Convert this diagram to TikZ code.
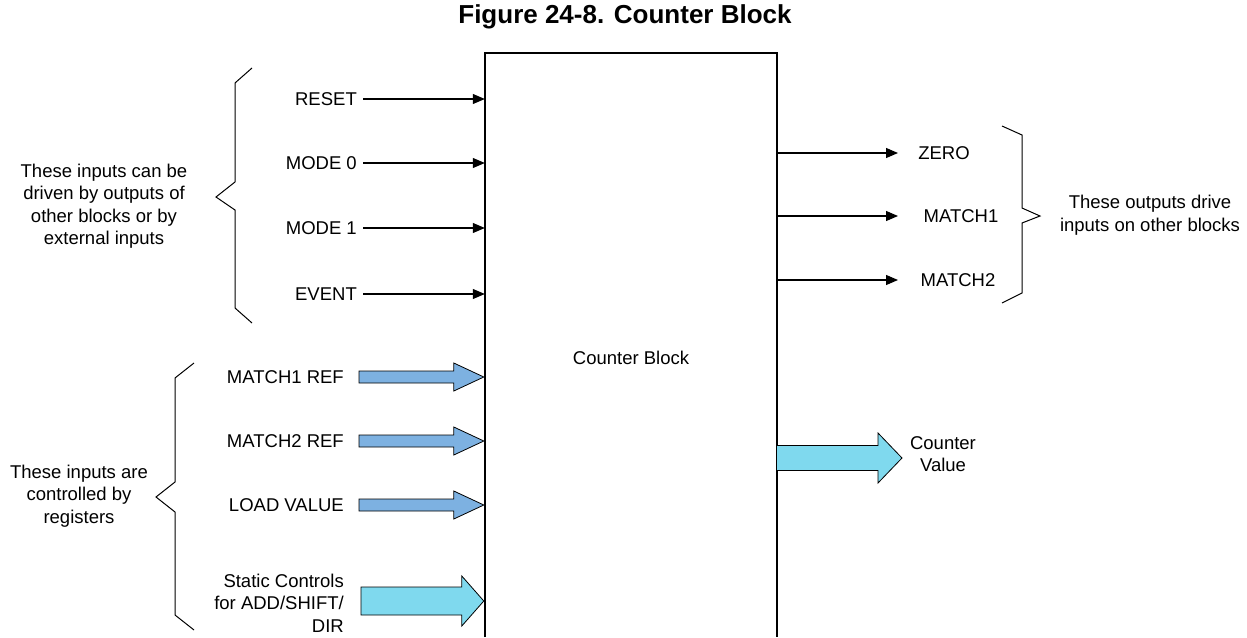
\documentclass[tikz,border=0pt]{standalone}
\usepackage{fontspec}
\setmainfont{Liberation Sans}
\usetikzlibrary{positioning,arrows.meta,calc}
\definecolor{regblue}{RGB}{125,177,225}
\definecolor{ctlcyan}{RGB}{127,217,238}

\begin{document}
\begin{tikzpicture}[x=1pt, y=-1pt, font=\fontsize{18.5}{22.5}\selectfont,
  lbl/.style={inner sep=3pt},
  sig/.style={-{Triangle[length=12pt,width=10pt]}, line width=1.1pt},
  bus/.style={draw=black, line width=0.8pt},
  brc/.style={line width=1pt}]
  \useasboundingbox (0,0) rectangle (1247,637);

  \node[font=\fontsize{26}{30}\selectfont\bfseries] (title) at (625,17) {Figure 24-8. Counter Block};

  % counter block, open at the bottom
  \node[minimum width=292pt, minimum height=584pt, inner sep=0pt] (blk) at (631,345) {};
  \draw[line width=2pt] (blk.south west) -- (blk.north west) -- (blk.north east) -- (blk.south east);
  \node[lbl] (cbl) at (631,358) {Counter Block};

  % event inputs
  \foreach \n/\y/\t in {rst/99/RESET, mode0/163/MODE 0, mode1/228/MODE 1, evt/294/EVENT} {
    \node[lbl, anchor=east] (\n) at (360,\y) {\t};
    \draw[sig, shorten <=3pt] (\n.east) -- (\n.east -| blk.west);
  }

  % register inputs
  \foreach \n/\y/\t in {m1ref/377/MATCH1 REF, m2ref/441/MATCH2 REF, ldval/505/LOAD VALUE} {
    \node[lbl, anchor=east] (\n) at (347,\y) {\t};
    \coordinate (\n-t) at ([xshift=-1pt]\n.east -| blk.west);
    \draw[bus, fill=regblue] ([shift={(12,-6)}]\n.east) -- ($(\n-t)+(-30,-6)$) -- ($(\n-t)+(-30,-14)$)
      -- (\n-t) -- ($(\n-t)+(-30,14)$) -- ($(\n-t)+(-30,6)$) -- ([shift={(12,6)}]\n.east) -- cycle;
  }
  \node[lbl, anchor=east, align=right] (statc) at (347,603) {Static Controls\\for ADD/SHIFT/\\DIR};
  \coordinate (statc-t) at ([shift={(-1,-2)}]statc.east -| blk.west);
  \draw[bus, fill=ctlcyan] ([shift={(14,-16)}]statc.east) -- ($(statc-t)+(-22,-14)$) -- ($(statc-t)+(-22,-25)$)
    -- (statc-t) -- ($(statc-t)+(-22,25)$) -- ($(statc-t)+(-22,14)$) -- ([shift={(14,12)}]statc.east) -- cycle;

  % outputs
  \foreach \n/\y/\x/\t in {zero/153/944/ZERO, match1/216/961/MATCH1, match2/280/958/MATCH2} {
    \node[lbl] (\n) at (\x,\y) {\t};
    \coordinate (\n-t) at (898,\y);
    \draw[sig] (blk.east |- \n-t) -- (\n-t);
  }
  \node[lbl, align=center] (cval) at (943,454) {Counter\\Value};
  \coordinate (cval-t) at (902,458);
  \draw[bus, fill=ctlcyan] (blk.east |- cval-t) ++(0,-12.5) -- ($(cval-t)+(-24,-12.5)$) -- ($(cval-t)+(-24,-25)$)
    -- (cval-t) -- ($(cval-t)+(-24,25)$) -- ($(cval-t)+(-24,12.5)$) -- ($(blk.east |- cval-t)+(0,12.5)$);

  % braces and notes
  \draw[brc] (252,68) -- (235,83) -- (235,182) -- (216,197) -- (235,210) -- (235,308) -- (252,323);
  \node[lbl, align=center] (evnote) at (104,206) {These inputs can be\\driven by outputs of\\other blocks or by\\external inputs};
  \draw[brc] (194,363) -- (175,378) -- (175,482) -- (156,497) -- (175,512) -- (175,615) -- (194,630);
  \node[lbl, align=center] (regnote) at (79,496) {These inputs are\\controlled by\\registers};
  \draw[brc] (1002,126) -- (1022,135) -- (1022,208) -- (1040,216) -- (1022,223) -- (1022,293) -- (1002,303);
  \node[lbl, align=center] (outnote) at (1150,215) {These outputs drive\\inputs on other blocks};
\end{tikzpicture}
\end{document}
